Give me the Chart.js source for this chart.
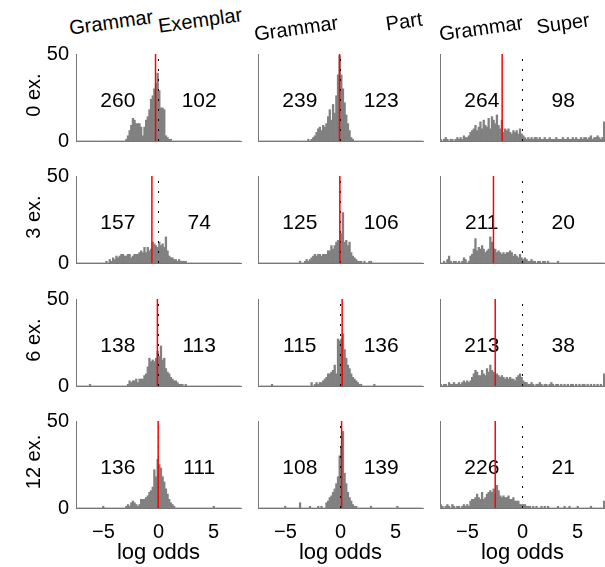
<!DOCTYPE html>
<html>
<head>
<meta charset="utf-8">
<script src="https://cdn.jsdelivr.net/npm/chart.js@4.4.1/dist/chart.umd.min.js"></script>
<style>
  body { margin: 0; background: #fff; }
  #fig { position: relative; width: 605px; height: 567px; overflow: hidden;
         font-family: "Liberation Sans", Arial, sans-serif; color: #000; }
  #fig canvas { position: absolute; }
  .lab { position: absolute; white-space: nowrap; font-size: 20px; line-height: 1; }
</style>
</head>
<body>
<div id="fig"></div>
<script>
// rows = number of examples, columns = alternative model
const rowNames = ["0 ex.", "3 ex.", "6 ex.", "12 ex."];
const colNames = ["Exemplar", "Part", "Super"];
const grammarCounts = [[260, 239, 264], [157, 125, 211], [138, 115, 213], [136, 108, 226]];
const otherCounts = [[102, 123, 98], [74, 106, 20], [113, 136, 38], [111, 139, 21]];
// red marker (log odds) per panel
const redLine = [[-0.27, -0.09, -1.85], [-0.6, -0.06, -2.64], [-0.1, 0.15, -2.48], [-0.03, 0.1, -2.48]];
const xTicks = [-5, 0, 5];
const yTicks = [0, 50];
const binWidth = 0.15;
// first bin (k) of each histogram, bin k covers [k*binWidth, (k+1)*binWidth]
const firstBin = [[-20, -20, -50], [-32, -25, -50], [-42, -42, -50], [-34, -34, -50]];

// histogram counts
const hist0Exemplar = [1,3,6,9,13,12,10,10,10,8,3,8,12,14,18,24,26,30,33,39, 29,19,19,18,3,2,1,1];
const hist0Part = [1,0,1,2,3,5,7,8,6,9,8,10,14,18,12,21,16,26,38,49, 38,30,22,15,10,6,2,1];
const hist0Super = [1,0,1,2,1,0,1,1,0,1,2,1,2,1,3,2, 2,3,5,6,7,9,6,8,11,7, 12,9,8,13,7,14,12,10,15,9,
  7,12,5,7,6,7,5,4,6,5,6,4,7,4,
  3,2,1,2,1,2,1,2,2,1, 2,1,1,2,1,1,2,1,1,1, 2,1,1,1,2,1,1,2,1,1, 2,1,2,1,1,2,1,2,2,1, 2,3,1,2,2,3,2,1,2,11];
const hist3Exemplar = [1,0,2,1,3,2,4,3,4,5,5,4,4,5,5,3,4,5,5,5,6,7,6,9,6,9,7,8,12,11,10,9,
  12,10,11,9,15,7,4,3,3,2,2,1,2,1,1,1,1];
const hist3Part = [1,0,0,1,2,1,2,3,4,5,4,5,5,4,5,5,5,7,7,10,8,10,12,13,11,
  17,29,12,13,10,12,6,4,3,2,1,1,1,0,1,0,0,1,1];
const hist3Super = [0,0,1,0,2,4,1,0,1,1,0,1,0,1,3,2,0,1, 4,5,8,14,7,9,8,10,8,6,7,8,
  15,12,8,8,6,7,6,5,6,5, 6,6,7,6,4,5,4,3,5,3,
  2,3,2,1,1,2,1,1,0,1,1,0,1,1,0,1,0,0,0,0,0,1];
const hist6Exemplar = [1,0,0,0,0,0,0,0,0,0,0,0,0,0,0,0,0,0,0,0,0,0,0,
  1,3,2,3,3,4,2,4,4,4,6,7,11,16,14,15,14,16,20,
  17,23,15,16,10,8,7,5,4,3,3,2,1,1,1,0,1];
const hist6Part = [1,0,0,0,0,0,0,0,0,0,0,0,0,0,0,0,0,0,0,0,0,0,0,0,
  2,0,1,2,1,2,2,3,4,5,7,7,8,9,12,7,27,26,
  27,30,21,16,12,10,7,5,4,3,2,1,1,0,0,0,0,0,0,0,1];
const hist6Super = [1,0,1,1,0,2,1,1,2,1,1,2,1,2,3,2,3,2, 3,5,7,9,8,6,6,9,7,6,10,8,
  12,9,8,6,7,6,5,6,5,4, 5,4,5,4,4,3,5,6,7,5,
  3,2,2,1,1,2,1,0,1,1, 2,1,0,1,1,0,1,2,1,0, 1,1,0,1,0,1,0,1,0,1, 1,0,1,0,1,0,1,1,0,1, 0,1,0,1,0,1,0,1,0,7];
const hist12Exemplar = [1,0,0,0,0,0,0,0,0,0,0,0,0,0,
  1,2,1,3,4,3,2,1,2,5,5,5,6,7,9,10,12,22,18,28,
  25,23,18,15,11,8,5,3,2,1,0,0,0,0,0,0,0,0,0,0,0,0,0,0,0,0,0,0,0,0,0,0,0,1];
const hist12Part = [1,0,0,0,0,0,0,0,0,3,0,0,0,0,0,1,0,0,0,0,1,0,1,0,0,3,4,6,7,9,11,14,18,30,
  35,44,20,14,9,6,4,2,1,1,0,0,0,0,0,0,0,0,1,0,0,0,0,0,0,0,0,0,0,0,0,0,0,0,1];
const hist12Super = [2,1,0,1,2,1,0,2,1,0,1,1,0,1,2,1,2,1, 4,5,5,6,8,6,5,9,5,6,8,9,
  10,9,11,8,13,10,7,6,7,6, 6,7,5,5,6,4,4,4,2,2,
  2,2,1,1,1,0,1,0,1,0, 0,1,0,1,0,1,0,0,0,0, 0,1,0,0,0,1,0,0,1,0, 0,0,0,1,0,0,0,0,0,0, 0,1,0,0,0,0,0,0,0,4];

const histograms = [
  [hist0Exemplar, hist0Part, hist0Super],
  [hist3Exemplar, hist3Part, hist3Super],
  [hist6Exemplar, hist6Part, hist6Super],
  [hist12Exemplar, hist12Part, hist12Super]
];

// layout of the grid (pixels)
const colLeft = [76, 258, 440];
const rowTop = [54, 176, 299, 421];
const plotW = 165, plotH = 87;
const axisW = 50, padTop = 12;
const FONT = '"Liberation Sans", Arial, sans-serif';

const fig = document.getElementById("fig");

function toBars(counts, first) {
  const pts = [];
  for (let k = -50; k < 50; k++) {
    const i = k - first;
    pts.push({ x: (k + 0.5) * binWidth, y: (i >= 0 && i < counts.length) ? counts[i] : 0 });
  }
  return pts;
}

// the two counts written inside each panel
const countLabels = {
  id: "countLabels",
  beforeDatasetsDraw(chart, args, opts) {
    const { ctx, scales: { x, y } } = chart;
    ctx.save();
    ctx.font = "21px " + FONT;
    ctx.fillStyle = "#000";
    ctx.textAlign = "center";
    ctx.textBaseline = "middle";
    ctx.fillText(String(opts.left), x.getPixelForValue(-3.7), y.getPixelForValue(23));
    ctx.fillText(String(opts.right), x.getPixelForValue(3.7), y.getPixelForValue(23));
    ctx.restore();
  }
};

function addLabel(text, cx, cy, rot, size) {
  const d = document.createElement("div");
  d.className = "lab";
  d.textContent = text;
  if (size) d.style.fontSize = size + "px";
  d.style.left = cx + "px";
  d.style.top = cy + "px";
  d.style.transform = "translate(-50%,-50%) rotate(" + rot + "deg)";
  fig.appendChild(d);
}

function noPad(s) {
  s.paddingTop = 0; s.paddingBottom = 0; s.paddingLeft = 0; s.paddingRight = 0;
}

rowNames.forEach((rowName, r) => {
  colNames.forEach((colName, c) => {
    const bottomRow = r === rowNames.length - 1;
    const extra = bottomRow ? 59 : 14;
    const cv = document.createElement("canvas");
    cv.width = axisW + plotW + 3;
    cv.height = padTop + plotH + extra;
    cv.style.left = (colLeft[c] - axisW) + "px";
    cv.style.top = (rowTop[r] - padTop) + "px";
    fig.appendChild(cv);

    const red = redLine[r][c];
    new Chart(cv, {
      type: "bar",
      data: {
        datasets: [
          {
            type: "line",
            data: [{ x: red, y: 0 }, { x: red, y: 50 }],
            borderColor: "#ff0000",
            borderWidth: 1.5,
            pointRadius: 0,
            order: 0
          },
          {
            type: "line",
            data: [{ x: 0, y: 0 }, { x: 0, y: 50 }],
            borderColor: "#000",
            borderWidth: 1,
            borderDash: [2, 8],
            pointRadius: 0,
            order: 1
          },
          {
            type: "bar",
            data: toBars(histograms[r][c], firstBin[r][c]),
            backgroundColor: "#808080",
            borderWidth: 0,
            barPercentage: 1,
            categoryPercentage: 1,
            order: 2
          }
        ]
      },
      options: {
        responsive: false,
        animation: false,
        events: [],
        layout: { padding: { top: padTop, right: 3, left: 0, bottom: 0 }, autoPadding: false },
        plugins: {
          legend: { display: false },
          tooltip: { enabled: false },
          countLabels: { left: grammarCounts[r][c], right: otherCounts[r][c] }
        },
        scales: {
          x: {
            type: "linear",
            min: -7.5,
            max: 7.5,
            offset: false,
            grid: { display: false, drawTicks: false, offset: false },
            border: { color: "#777", width: 1 },
            afterBuildTicks: s => { s.ticks = xTicks.map(v => ({ value: v })); },
            afterFit: s => { s.height = extra; noPad(s); },
            ticks: {
              display: bottomRow,
              color: "#000",
              padding: 12,
              font: { family: FONT, size: 20 },
              callback: v => (v < 0 ? "\u2212" + Math.abs(v) : String(v))
            },
            title: {
              display: bottomRow,
              text: "log odds",
              color: "#000",
              font: { family: FONT, size: 22 },
              padding: { top: 0, bottom: 1 }
            }
          },
          y: {
            min: 0,
            max: 50,
            grid: { display: false, drawTicks: false },
            border: { color: "#777", width: 1 },
            afterBuildTicks: s => { s.ticks = yTicks.map(v => ({ value: v })); },
            afterFit: s => { s.width = axisW; noPad(s); },
            ticks: {
              display: c === 0,
              color: "#000",
              padding: 7,
              font: { family: FONT, size: 20 }
            }
          }
        }
      },
      plugins: [countLabels]
    });
  });
});

// column headers and row labels
const headerPos = [
  [[111, 22], [200, 20]],
  [[296, 28], [404, 21]],
  [[481, 28], [563, 23]]
];
colNames.forEach((name, c) => {
  addLabel("Grammar", headerPos[c][0][0], headerPos[c][0][1], -8);
  addLabel(name, headerPos[c][1][0], headerPos[c][1][1], -8);
});
rowNames.forEach((name, r) => {
  addLabel(name, 33, rowTop[r] + plotH / 2 - 3, -90);
});
</script>
</body>
</html>
